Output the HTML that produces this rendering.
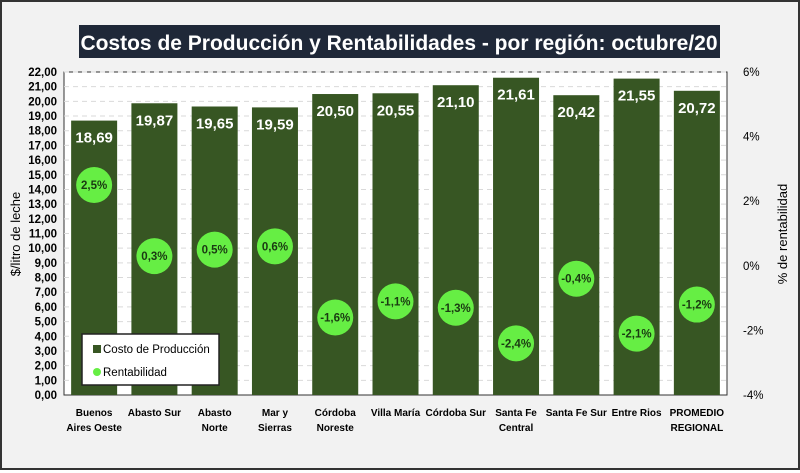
<!DOCTYPE html>
<html><head><meta charset="utf-8"><style>
body{margin:0;background:#fff}
#wrap{position:relative;width:800px;height:470px;background:#f2f2f2;box-sizing:border-box;border:2px solid #333;font-family:"Liberation Sans",sans-serif}
svg text{font-family:"Liberation Sans",sans-serif}
</style></head><body>
<div id="wrap">
<svg id="chart" width="796" height="466">
<rect x="77" y="23" width="641" height="33" fill="#1f2838"/>
<text x="397" y="48" text-anchor="middle" fill="#fff" font-size="21" font-weight="bold">Costos de Producción y Rentabilidades - por región: octubre/20</text>
<rect x="62" y="70" width="663" height="323" fill="#fff" stroke="#333" stroke-width="1"/>
<g id="grid"></g><g id="bars"></g><g id="yl"></g><g id="yr"></g><g id="xl"></g><g id="dots"></g>
<text transform="translate(18,232) rotate(-90)" text-anchor="middle" font-size="13" fill="#000">$/litro de leche</text>
<text transform="translate(785,232) rotate(-90)" text-anchor="middle" font-size="13" fill="#000">% de rentabilidad</text>
<g>
<rect x="80" y="332" width="137" height="51" fill="#fff" stroke="#222" stroke-width="1.5"/>
<rect x="91" y="343" width="8" height="8" fill="#375623"/>
<text x="101" y="351" font-size="11.5" fill="#000">Costo de Producción</text>
<circle cx="95" cy="370" r="4" fill="#66ee44"/>
<text x="101" y="374" font-size="11.5" fill="#000">Rentabilidad</text>
</g>
</svg>
</div>
<script>
const categories=[["Buenos","Aires Oeste"],["Abasto Sur"],["Abasto","Norte"],["Mar y","Sierras"],["Córdoba","Noreste"],["Villa María"],["Córdoba Sur"],["Santa Fe","Central"],["Santa Fe Sur"],["Entre Rios"],["PROMEDIO","REGIONAL"]];
const costs=[18.69,19.87,19.65,19.59,20.50,20.55,21.10,21.61,20.42,21.55,20.72];
const rent=[2.5,0.3,0.5,0.6,-1.6,-1.1,-1.3,-2.4,-0.4,-2.1,-1.2];
const leftTicks=[0,1,2,3,4,5,6,7,8,9,10,11,12,13,14,15,16,17,18,19,20,21,22];
const rightTicks=[-4,-2,0,2,4,6];
const NS="http://www.w3.org/2000/svg";
const X0=62,X1=725,YT=70,YB=393;
const y=v=>YB-(v/22)*(YB-YT);
const y2=v=>YB-((v+4)/10)*(YB-YT);
const step=(X1-X0)/categories.length;
const cx=i=>X0+step*(i+0.5);
const fmt=v=>v.toFixed(2).replace('.',',');
function mk(tag,attrs,parent,txt){const e=document.createElementNS(NS,tag);for(const k in attrs)e.setAttribute(k,attrs[k]);if(txt!==undefined)e.textContent=txt;document.getElementById(parent).appendChild(e);return e;}
leftTicks.forEach(t=>{
 if(t>0){const g=mk('line',{x1:X0,x2:X1,y1:y(t),y2:y(t),stroke:'#d9d9d9','stroke-dasharray':'5,4'},'grid');
 
 }
 const l=mk('text',{x:X0-7,y:y(t)+4,'text-anchor':'end','font-size':'11.5','font-weight':'bold'},'yl',fmt(t));
 
 
});
rightTicks.forEach(t=>{
 const l=mk('text',{x:X1+16,y:y2(t)+4,'font-size':'11.5'},'yr',t+'%');
 
 
});
const bw=46;
costs.forEach((v,i)=>{
 const b=mk('rect',{x:cx(i)-bw/2,y:y(v),width:bw,height:YB-y(v),fill:'#375623'},'bars');
 
 
 const t=mk('text',{x:cx(i),y:y(v)+22,'text-anchor':'middle','font-size':'15','font-weight':'bold',fill:'#fff'},'bars',fmt(v));
 
 
 categories[i].forEach((s,j)=>{
  const c=mk('text',{x:cx(i),y:414+j*15,'text-anchor':'middle','font-size':'10','font-weight':'bold'},'xl',s);
  
  
 });
});
rent.forEach((v,i)=>{
 const c=mk('circle',{cx:cx(i),cy:y2(v),r:18,fill:'#66ee44'},'dots');
 
 
 const t=mk('text',{x:cx(i),y:y2(v)+4,'text-anchor':'middle','font-size':'11.5','font-weight':'bold',fill:'#1a3a12'},'dots',v.toFixed(1).replace('.',',')+'%');
 
 
});
</script>
</body></html>
